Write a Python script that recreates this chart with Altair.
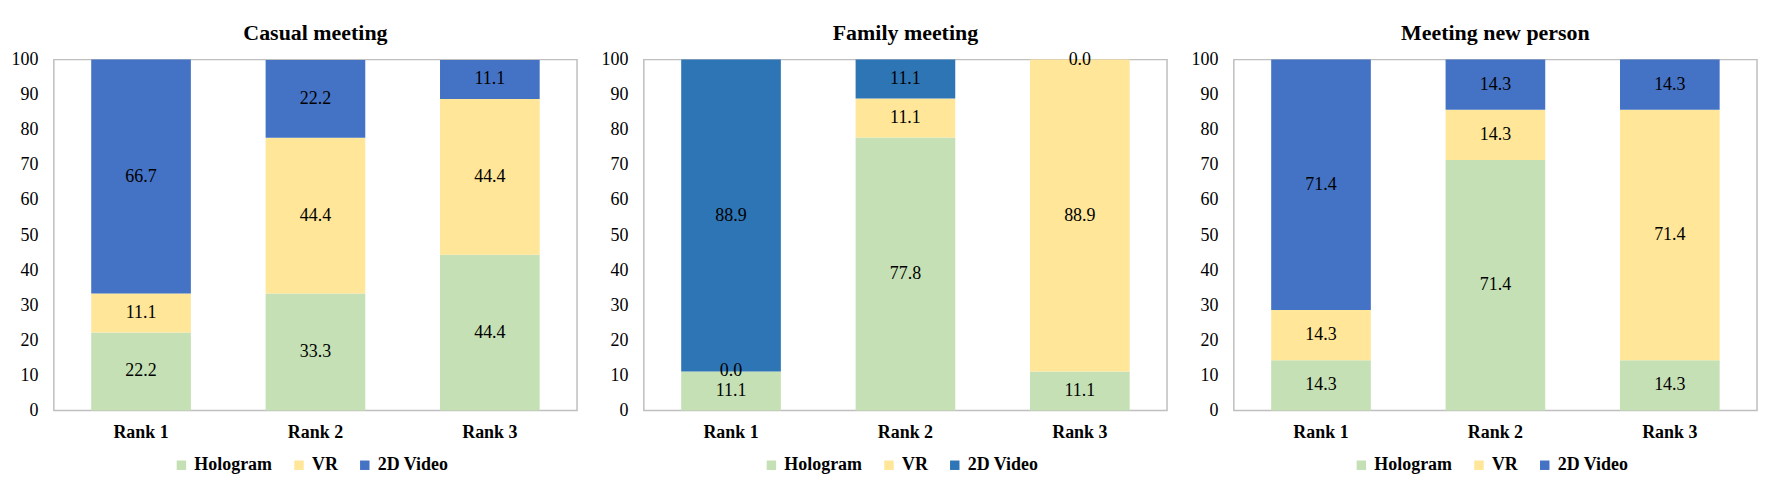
import altair as alt
import pandas as pd

ranks = ["Rank 1", "Rank 2", "Rank 3"]
methods = ["Hologram", "VR", "2D Video"]
titles = ["Casual meeting", "Family meeting", "Meeting new person"]

# values per rank: [Hologram, VR, 2D Video]
casual_hologram = [22.2, 33.3, 44.4]
casual_vr = [11.1, 44.4, 44.4]
casual_video = [66.7, 22.2, 11.1]

family_hologram = [11.1, 77.8, 11.1]
family_vr = [0.0, 11.1, 88.9]
family_video = [88.9, 11.1, 0.0]

newperson_hologram = [14.3, 71.4, 14.3]
newperson_vr = [14.3, 14.3, 71.4]
newperson_video = [71.4, 14.3, 14.3]

y_ticks = [0, 10, 20, 30, 40, 50, 60, 70, 80, 90, 100]

green = "#C5E0B4"
yellow = "#FFE699"
blues = ["#4472C4", "#2E75B6", "#4472C4"]

FONT = "Liberation Serif"


def make_df(h, v, d):
    rows = []
    for i, r in enumerate(ranks):
        for j, (m, vals) in enumerate(zip(methods, [h, v, d])):
            rows.append({"rank": r, "method": m, "ord": j, "value": vals[i]})
    return pd.DataFrame(rows)


def panel(title, df, blue):
    base = alt.Chart(df).transform_stack(
        stack="value", groupby=["rank"], as_=["y0", "y1"],
        sort=[alt.SortField("ord", order="ascending")]
    ).transform_calculate(mid="(datum.y0 + datum.y1) / 2")

    xscale = alt.Scale(paddingInner=75 / 175, paddingOuter=37.5 / 175)
    yscale = alt.Scale(domain=[0, 100], nice=False, clamp=True)
    xaxis = alt.Axis(labelAngle=0, labelFont=FONT, labelFontSize=18,
                     labelFontWeight="bold", labelColor="#000000",
                     ticks=False, domain=False, labelPadding=13)
    yaxis = alt.Axis(values=y_ticks, labelFont=FONT, labelOverlap=False,
                     labelFontSize=18, labelColor="#000000", ticks=False,
                     domain=False, grid=False, labelPadding=16)

    bars = base.mark_bar(stroke=None).encode(
        x=alt.X("rank:N", sort=ranks, title=None, scale=xscale, axis=xaxis),
        y=alt.Y("y0:Q", scale=yscale, title=None, axis=yaxis),
        y2="y1:Q",
        color=alt.Color("method:N",
                        scale=alt.Scale(domain=methods, range=[green, yellow, blue]),
                        legend=alt.Legend(title=None, orient="none", legendX=119,
                                          legendY=398, direction="horizontal",
                                          symbolType="square", symbolSize=90,
                                          symbolStrokeWidth=0, symbolOpacity=1,
                                          labelFont=FONT, labelFontSize=18,
                                          labelFontWeight="bold", labelColor="#000000",
                                          labelOffset=4, columnPadding=18)),
    )
    text = base.mark_text(font=FONT, fontSize=18, color="#000000",
                          baseline="middle", align="center").encode(
        x=alt.X("rank:N", sort=ranks, title=None, scale=xscale, axis=xaxis),
        y=alt.Y("mid:Q", scale=yscale, title=None, axis=yaxis),
        text=alt.Text("value:Q", format=".1f"),
    )
    return alt.layer(bars, text).properties(
        width=525, height=352,
        title=alt.TitleParams(title, font=FONT, fontSize=22, fontWeight="bold",
                              color="#000000", anchor="middle", offset=6),
    )


p1 = panel(titles[0], make_df(casual_hologram, casual_vr, casual_video), blues[0])
p2 = panel(titles[1], make_df(family_hologram, family_vr, family_video), blues[1])
p3 = panel(titles[2], make_df(newperson_hologram, newperson_vr, newperson_video), blues[2])

chart = alt.hconcat(p1, p2, p3, spacing=22).resolve_scale(color="independent").properties(
    padding={"left": 2, "top": 12, "right": 5, "bottom": 0}
).configure(background="white", font=FONT).configure_view(
    stroke="#BFBFBF", strokeWidth=1.5
).configure_axis(labelFont=FONT).configure_legend(labelFont=FONT)

chart.save("out.html", embed_options={"renderer": "svg", "actions": False})
